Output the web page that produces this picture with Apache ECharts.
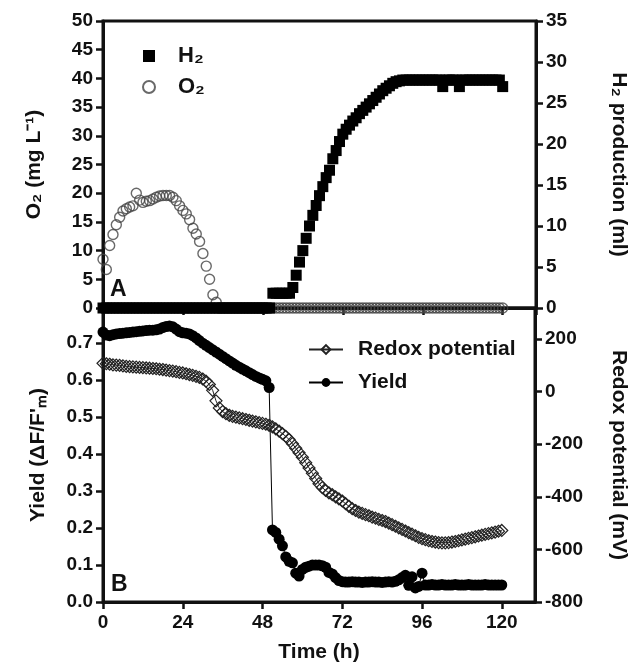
<!DOCTYPE html>
<html>
<head>
<meta charset="utf-8">
<title>H2 / O2 / Yield / Redox</title>
<script src="https://cdn.jsdelivr.net/npm/echarts@6/dist/echarts.min.js"></script>
<style>
  html, body { margin: 0; padding: 0; background: #fff; }
  #main { width: 637px; height: 671px; }
</style>
</head>
<body>
<div id="main"></div>
<script type="text/javascript">
// hourly samples, index = time (h), 0..120
var o2Vals = [
  8.5, 6.7, 10.9, 12.8, 14.5, 15.8, 16.9, 17.3, 17.6, 17.8,
  20.0, 18.8, 18.4, 18.6, 18.7, 19.0, 19.3, 19.5, 19.6, 19.6,
  19.6, 19.3, 18.7, 17.8, 17.0, 16.4, 15.4, 13.9, 12.9, 11.6,
  9.5, 7.3, 5.0, 2.3, 1.0, 0, 0, 0, 0, 0,
  0, 0, 0, 0, 0, 0, 0, 0, 0, 0,
  0, 0, 0, 0, 0, 0, 0, 0, 0, 0,
  0, 0, 0, 0, 0, 0, 0, 0, 0, 0,
  0, 0, 0, 0, 0, 0, 0, 0, 0, 0,
  0, 0, 0, 0, 0, 0, 0, 0, 0, 0,
  0, 0, 0, 0, 0, 0, 0, 0, 0, 0,
  0, 0, 0, 0, 0, 0, 0, 0, 0, 0,
  0, 0, 0, 0, 0, 0, 0, 0, 0, 0,
  0
];
var h2Vals = [
  0, 0, 0, 0, 0, 0, 0, 0, 0, 0,
  0, 0, 0, 0, 0, 0, 0, 0, 0, 0,
  0, 0, 0, 0, 0, 0, 0, 0, 0, 0,
  0, 0, 0, 0, 0, 0, 0, 0, 0, 0,
  0, 0, 0, 0, 0, 0, 0, 0, 0, 0,
  0, 1.8, 1.8, 1.8, 1.8, 1.8, 1.8, 2.5, 4.0, 5.6,
  7.0, 8.5, 10.0, 11.3, 12.5, 13.7, 14.8, 15.9, 16.8, 18.2,
  19.2, 20.3, 21.2, 21.8, 22.3, 22.8, 23.2, 23.7, 24.1, 24.5,
  24.9, 25.3, 25.7, 26.1, 26.5, 26.8, 27.1, 27.4, 27.6, 27.7,
  27.8, 27.8, 27.8, 27.8, 27.8, 27.8, 27.8, 27.8, 27.8, 27.8,
  27.8, 27.8, 27.0, 27.8, 27.8, 27.8, 27.8, 27.0, 27.8, 27.8,
  27.8, 27.8, 27.8, 27.8, 27.8, 27.8, 27.8, 27.8, 27.8, 27.8,
  27.0
];
var yieldVals = [
  0.73, 0.722, 0.72, 0.723, 0.725, 0.726, 0.727, 0.728, 0.729, 0.73,
  0.731, 0.732, 0.733, 0.734, 0.735, 0.735, 0.736, 0.738, 0.742, 0.745,
  0.746, 0.744, 0.738, 0.731, 0.728, 0.727, 0.725, 0.72, 0.714, 0.707,
  0.70, 0.694, 0.688, 0.682, 0.676, 0.67, 0.664, 0.658, 0.652, 0.646,
  0.64, 0.635, 0.63, 0.625, 0.62, 0.615, 0.61, 0.606, 0.602, 0.598,
  0.58, 0.195, 0.188, 0.17, 0.152, 0.122, 0.11, 0.106, 0.078, 0.07,
  0.088, 0.094, 0.097, 0.1, 0.1, 0.1, 0.098, 0.094, 0.08, 0.076,
  0.066, 0.058, 0.055, 0.054, 0.054, 0.055, 0.054, 0.054, 0.053, 0.054,
  0.054, 0.055, 0.054, 0.054, 0.053, 0.054, 0.055, 0.054, 0.056, 0.06,
  0.066, 0.072, 0.045, 0.068, 0.038, 0.042, 0.078, 0.046, 0.046, 0.047,
  0.046, 0.046, 0.047, 0.046, 0.046, 0.046, 0.047, 0.046, 0.046, 0.046,
  0.047, 0.046, 0.046, 0.046, 0.046, 0.047, 0.046, 0.046, 0.046, 0.046,
  0.046
];
var redoxVals = [
  108, 106, 104, 102, 101, 100, 98, 96, 95, 94,
  93, 92, 91, 90, 89, 88, 87, 85, 84, 82,
  80, 78, 76, 73, 71, 68, 65, 62, 58, 54,
  48, 40, 27, 5, -35, -62, -76, -84, -90, -94,
  -97, -100, -103, -106, -109, -112, -115, -118, -121, -124,
  -128, -134, -142, -150, -160, -170, -182, -198, -215, -232,
  -250, -270, -290, -310, -330, -350, -365, -376, -385, -392,
  -400, -408, -416, -426, -436, -445, -452, -458, -463, -468,
  -472, -477, -481, -486, -490, -494, -500, -506, -512, -518,
  -524, -530, -536, -542, -548, -554, -559, -563, -567, -570,
  -572, -574, -575, -575, -574, -572, -570, -567, -564, -561,
  -558, -555, -552, -549, -546, -543, -540, -537, -534, -531,
  -528
];

function byHour(vals) {
  return vals.map(function (v, h) { return [h, v]; });
}

var ink = '#111';
var fam = '"Liberation Sans", Arial, sans-serif';
var tickFont = { color: ink, fontSize: 19, fontWeight: 'bold', fontFamily: fam };
var nameFont = { color: ink, fontSize: 21, fontWeight: 'bold', fontFamily: fam };
var axLine = { show: true, onZero: false, lineStyle: { color: ink, width: 3 } };
var axTick = { show: true, length: 7, lineStyle: { color: ink, width: 2.5 } };

var myChart = echarts.init(document.getElementById('main'));

var option = {
  animation: false,
  backgroundColor: '#fff',
  grid: [
    { left: 103, right: 100, top: 21, height: 287, show: true, borderColor: ink, borderWidth: 3 },
    { left: 103, right: 100, top: 308, height: 294, show: true, borderColor: ink, borderWidth: 3 }
  ],
  xAxis: [
    {
      gridIndex: 0, type: 'value', min: 0, max: 130, interval: 24,
      axisLine: axLine, axisTick: axTick, axisLabel: { show: false }, splitLine: { show: false }
    },
    {
      gridIndex: 1, type: 'value', min: 0, max: 130, interval: 24,
      axisLine: axLine, axisTick: axTick, splitLine: { show: false },
      axisLabel: Object.assign({ margin: 11, showMaxLabel: false }, tickFont),
      name: 'Time (h)', nameLocation: 'middle', nameGap: 40, nameTextStyle: nameFont
    }
  ],
  yAxis: [
    {
      gridIndex: 0, type: 'value', position: 'left', min: 0, max: 50, interval: 5,
      axisLine: axLine, axisTick: axTick, splitLine: { show: false },
      axisLabel: Object.assign({ margin: 10 }, tickFont),
      name: 'O\u2082 (mg L\u207B\u00B9)', nameLocation: 'middle', nameRotate: 90, nameGap: 58,
      nameTextStyle: nameFont
    },
    {
      gridIndex: 0, type: 'value', position: 'right', min: 0, max: 35, interval: 5,
      axisLine: axLine, axisTick: axTick, splitLine: { show: false },
      axisLabel: Object.assign({ margin: 10 }, tickFont),
      name: 'H\u2082 production (ml)', nameLocation: 'middle', nameRotate: -90, nameGap: 72,
      nameTextStyle: nameFont
    },
    {
      gridIndex: 1, type: 'value', position: 'left', min: 0, max: 0.795, interval: 0.1,
      axisLine: axLine, axisTick: axTick, splitLine: { show: false },
      axisLabel: Object.assign({
        margin: 10, showMaxLabel: false,
        formatter: function (v) { return v.toFixed(1); }
      }, tickFont),
      name: 'Yield (\u0394F/F\'\u2098)', nameLocation: 'middle', nameRotate: 90, nameGap: 54,
      nameTextStyle: nameFont
    },
    {
      gridIndex: 1, type: 'value', position: 'right', min: -800, max: 318, interval: 200,
      axisLine: axLine, axisTick: axTick, splitLine: { show: false },
      axisLabel: Object.assign({ margin: 10, showMaxLabel: false }, tickFont),
      name: 'Redox potential (mV)', nameLocation: 'middle', nameRotate: -90, nameGap: 73,
      nameTextStyle: nameFont
    }
  ],
  legend: [
    {
      data: ['H\u2082', 'O\u2082'], orient: 'vertical', left: 137, top: 40,
      itemWidth: 12, itemHeight: 12, itemGap: 9,
      textStyle: { color: ink, fontSize: 22, fontWeight: 'bold', fontFamily: fam, padding: [0, 0, 0, 18] }
    },
    {
      data: ['Redox potential', 'Yield'], orient: 'vertical', left: 303, top: 334,
      itemWidth: 34, itemHeight: 11, itemGap: 12,
      textStyle: { color: ink, fontSize: 21, fontWeight: 'bold', fontFamily: fam, padding: [0, 0, 0, 10] }
    }
  ],
  graphic: [
    { type: 'text', left: 110, top: 278, style: { text: 'A', fill: ink, font: 'bold 23px ' + fam } },
    { type: 'text', left: 111, top: 573, style: { text: 'B', fill: ink, font: 'bold 23px ' + fam } }
  ],
  series: [
    {
      name: 'O\u2082', type: 'scatter', xAxisIndex: 0, yAxisIndex: 0,
      symbol: 'circle', symbolSize: 10,
      itemStyle: { color: 'rgba(255,255,255,0)', borderColor: '#444', borderWidth: 1.4 },
      data: byHour(o2Vals)
    },
    {
      name: 'H\u2082', type: 'scatter', xAxisIndex: 0, yAxisIndex: 1,
      symbol: 'rect', symbolSize: 11,
      itemStyle: { color: '#000', opacity: 1 },
      data: byHour(h2Vals)
    },
    {
      name: 'Redox potential', type: 'line', xAxisIndex: 1, yAxisIndex: 3,
      symbol: 'diamond', symbolSize: 12, showAllSymbol: true,
      lineStyle: { color: '#222', width: 1 },
      itemStyle: { color: 'rgba(255,255,255,0)', borderColor: '#222', borderWidth: 1.2 },
      data: byHour(redoxVals)
    },
    {
      name: 'Yield', type: 'line', xAxisIndex: 1, yAxisIndex: 2,
      symbol: 'circle', symbolSize: 11, showAllSymbol: true,
      lineStyle: { color: '#000', width: 1 },
      itemStyle: { color: '#000' },
      data: byHour(yieldVals)
    }
  ]
};

myChart.setOption(option);
</script>
</body>
</html>
